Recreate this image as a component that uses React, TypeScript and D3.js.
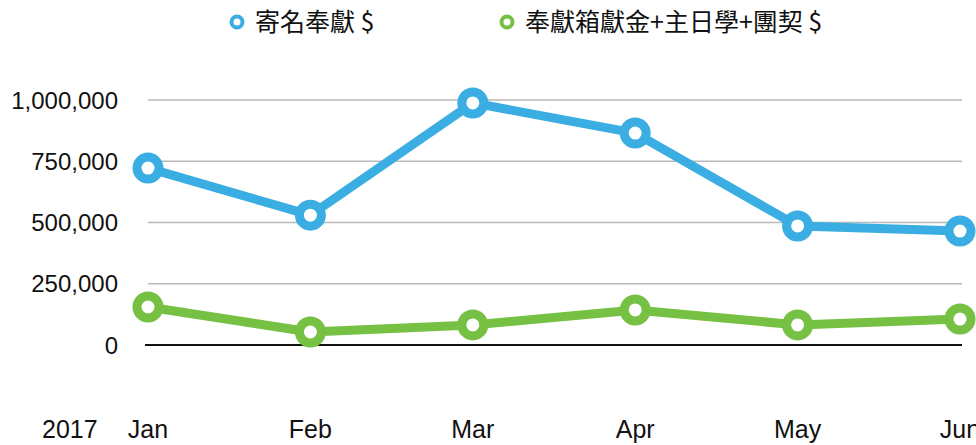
import React, { useRef, useEffect } from "react";
import * as d3 from "d3";

const months = ["Jan", "Feb", "Mar", "Apr", "May", "Jun"];
const yearLabel = "2017";
const namedOffering = [722000, 530000, 988000, 865000, 486000, 465000];
const boxOffering = [155000, 53000, 82000, 143000, 82000, 106000];
const yTicks = [0, 250000, 500000, 750000, 1000000];
const seriesNames = ["寄名奉獻 $", "奉獻箱獻金+主日學+團契 $"];
const seriesColors = ["#3aade2", "#76c043"];

const layout = { width: 976, height: 445, left: 148, right: 960, top: 100, bottom: 345 };

export default function App() {
  const ref = useRef<SVGSVGElement>(null);

  useEffect(() => {
    const svg = d3.select(ref.current);
    svg.selectAll("*").remove();

    const font = "'Liberation Sans', Arial, 'Noto Sans CJK TC', sans-serif";

    const x = d3.scalePoint<string>().domain(months).range([layout.left, layout.right]);
    const y = d3.scaleLinear().domain([0, 1000000]).range([layout.bottom, layout.top]);

    // grid
    svg.append("g")
      .selectAll("line")
      .data(yTicks)
      .join("line")
      .attr("x1", d => (d === 0 ? 145 : 148))
      .attr("x2", 962)
      .attr("y1", d => y(d))
      .attr("y2", d => y(d))
      .attr("stroke", d => (d === 0 ? "#111" : "#b9b9b9"))
      .attr("stroke-width", d => (d === 0 ? 2 : 1.6));

    // y labels
    svg.append("g")
      .selectAll("text")
      .data(yTicks)
      .join("text")
      .attr("x", 118)
      .attr("y", d => y(d))
      .attr("dy", "0.36em")
      .attr("text-anchor", "end")
      .attr("font-family", font)
      .attr("font-size", 24)
      .attr("fill", "#111")
      .text(d => d3.format(",")(d));

    // x labels
    svg.append("g")
      .selectAll("text")
      .data(months)
      .join("text")
      .attr("x", d => x(d)!)
      .attr("y", 438)
      .attr("text-anchor", "middle")
      .attr("font-family", font)
      .attr("font-size", 25)
      .attr("fill", "#111")
      .text(d => d);

    svg.append("text")
      .attr("x", 42)
      .attr("y", 438)
      .attr("font-family", font)
      .attr("font-size", 25)
      .attr("fill", "#111")
      .text(yearLabel);

    const line = d3.line<number>()
      .x((d, i) => x(months[i])!)
      .y(d => y(d));

    [namedOffering, boxOffering].forEach((series, s) => {
      const g = svg.append("g");
      g.append("path")
        .attr("d", line(series))
        .attr("fill", "none")
        .attr("stroke", seriesColors[s])
        .attr("stroke-width", 9)
        .attr("stroke-linejoin", "round");
      g.selectAll("circle")
        .data(series)
        .join("circle")
        .attr("cx", (d, i) => x(months[i])!)
        .attr("cy", d => y(d))
        .attr("r", 11)
        .attr("fill", "#fff")
        .attr("stroke", seriesColors[s])
        .attr("stroke-width", 9);
    });

    // legend
    const legendX = [237, 507];
    seriesNames.forEach((name, s) => {
      svg.append("circle")
        .attr("cx", legendX[s])
        .attr("cy", 22)
        .attr("r", 5.5)
        .attr("fill", "#fff")
        .attr("stroke", seriesColors[s])
        .attr("stroke-width", 4);
      svg.append("text")
        .attr("x", legendX[s] + 18)
        .attr("y", 22)
        .attr("dy", "0.36em")
        .attr("font-family", "'Noto Sans CJK TC', 'Liberation Sans', sans-serif")
        .attr("font-size", 25)
        .attr("fill", "#111")
        .text(name);
    });
  }, []);

  return (
    <div>
      <svg
        ref={ref}
        width={layout.width}
        height={layout.height}
        style={{ position: "absolute", left: 0, top: 0, background: "#fff" }}
      />
    </div>
  );
}
